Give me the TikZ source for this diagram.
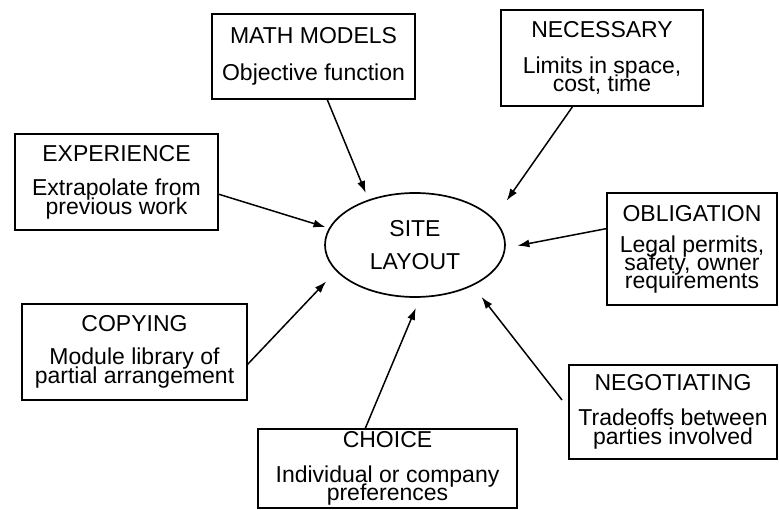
\documentclass[tikz,border=0pt]{standalone}
\usepackage{fontspec}
\setmainfont{Liberation Sans}
\usetikzlibrary{arrows.meta,shapes.geometric}
\newcommand\labelfont{\fontsize{23}{19}\selectfont\lineskiplimit=-50pt\relax}
\begin{document}
\begin{tikzpicture}[x=1pt,y=-1pt,
  infobox/.style={draw,line width=1.6pt,rectangle,inner sep=0pt,outer sep=0pt,
    align=center,font=\labelfont},
  hub/.style={draw,line width=1.7pt,ellipse,inner sep=0pt,outer sep=0pt,
    minimum width=180pt,minimum height=104pt,align=center,font=\labelfont},
  feed/.style={line width=1.5pt,-{Latex[length=12pt,width=8pt]}}]
\useasboundingbox (0,0) rectangle (779,510);

% central ellipse
\node[hub] (site) at (415,245) {SITE\\[14pt]LAYOUT};

% surrounding factors
\node[infobox,minimum width=203pt,minimum height=85pt] (math) at (313.5,56.5)
  {MATH MODELS\\[18pt]Objective function};
\node[infobox,minimum width=202pt,minimum height=96pt] (nec) at (602,58)
  {NECESSARY\\[17pt]Limits in space,\\[-1pt]cost, time};
\node[infobox,minimum width=203pt,minimum height=96pt] (exp) at (116.5,182)
  {EXPERIENCE\\[15pt]Extrapolate from\\previous work};
\node[infobox,minimum width=170pt,minimum height=112pt] (obl) at (692,249)
  {OBLIGATION\\[12pt]Legal permits,\\[-1pt]safety, owner\\[-1pt]requirements};
\node[infobox,minimum width=225pt,minimum height=96pt] (copy) at (134.5,352)
  {COPYING\\[14pt]Module library of\\partial arrangement};
\node[infobox,minimum width=259pt,minimum height=79pt] (choice) at (387.5,468.5)
  {CHOICE\\[16pt]Individual or company\\[-1pt]preferences};
\node[infobox,minimum width=208pt,minimum height=94pt] (neg) at (673,412)
  {NEGOTIATING\\[16pt]Tradeoffs between\\parties involved};

% arrows into the hub
\draw[feed,shorten >=8pt]   ([xshift=13.5pt]math.south) -- (site.136.6);
\draw[feed,shorten >=4.4pt] ([yshift=-12pt]exp.east) -- (site.169.7);
\draw[feed,shorten >=23pt]  ([xshift=-29pt]nec.south) -- (site.18.8);
\draw[feed,shorten >=12.8pt]([yshift=20.5pt]obl.west) -- (site.-2.9);
\draw[feed,shorten >=15pt]  ([yshift=-13pt]copy.east) -- (site.198.6);
\draw[feed,shorten >=12pt]  ([xshift=-22.5pt]choice.north) -- (site.276.3);
\draw[feed,shorten >=15pt]  ([xshift=-7pt,yshift=12pt]neg.west) -- (site.-35.75);
\end{tikzpicture}
\end{document}
